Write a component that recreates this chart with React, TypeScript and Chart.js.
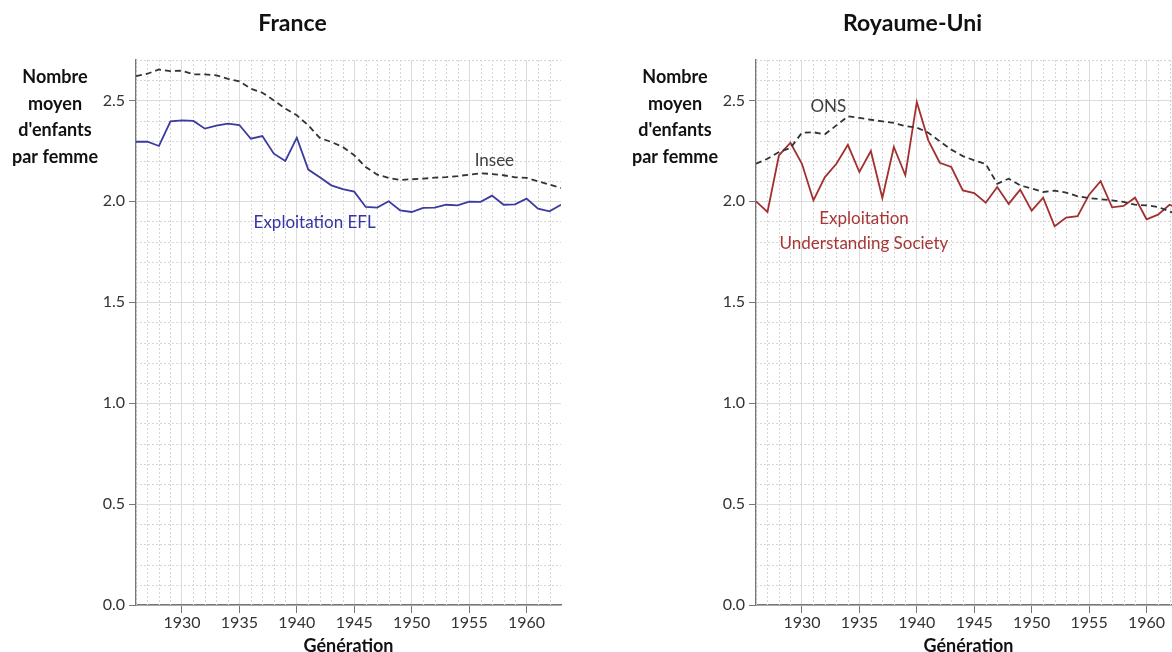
import React, { useEffect, useRef } from "react";
import { Chart, registerables } from "chart.js";

Chart.register(...registerables);

const YEARS = [
  1926, 1927, 1928, 1929, 1930, 1931, 1932, 1933, 1934, 1935, 1936, 1937, 1938,
  1939, 1940, 1941, 1942, 1943, 1944, 1945, 1946, 1947, 1948, 1949, 1950, 1951,
  1952, 1953, 1954, 1955, 1956, 1957, 1958, 1959, 1960, 1961, 1962, 1963,
];

const FR_EFL = [
  2.295, 2.295, 2.274, 2.396, 2.401, 2.398, 2.36, 2.375, 2.385, 2.378, 2.31, 2.323,
  2.236, 2.2, 2.315, 2.157, 2.119, 2.079, 2.06, 2.048, 1.972, 1.969, 2.0, 1.955,
  1.947, 1.967, 1.969, 1.983, 1.98, 1.998, 1.997, 2.028, 1.983, 1.985, 2.013, 1.964,
  1.95, 1.983,
];

const FR_INSEE = [
  2.62, 2.632, 2.653, 2.645, 2.647, 2.629, 2.629, 2.624, 2.607, 2.594, 2.558, 2.538,
  2.5, 2.459, 2.426, 2.376, 2.314, 2.294, 2.269, 2.228, 2.17, 2.132, 2.116, 2.106,
  2.109, 2.112, 2.117, 2.12, 2.125, 2.132, 2.139, 2.135, 2.129, 2.119, 2.116, 2.099,
  2.083, 2.066,
];

const UK_US = [
  2.0, 1.947, 2.228, 2.29, 2.186, 2.005, 2.12, 2.186, 2.28, 2.145, 2.249, 2.016,
  2.269, 2.129, 2.492, 2.302, 2.191, 2.17, 2.054, 2.041, 1.993, 2.071, 1.987, 2.058,
  1.954, 2.018, 1.876, 1.919, 1.926, 2.033, 2.1, 1.97, 1.977, 2.018, 1.911, 1.934,
  1.983, 1.96,
];

const UK_ONS = [
  2.186, 2.211, 2.244, 2.264, 2.34, 2.342, 2.332, 2.376, 2.421, 2.413, 2.404, 2.396,
  2.388, 2.373, 2.365, 2.34, 2.297, 2.256, 2.224, 2.203, 2.185, 2.087, 2.112, 2.079,
  2.063, 2.046, 2.053, 2.043, 2.025, 2.016, 2.01, 2.005, 1.997, 1.983, 1.98, 1.972,
  1.95, 1.93,
];

const X_TICKS = [1930, 1935, 1940, 1945, 1950, 1955, 1960];
const Y_TICKS = [0, 0.5, 1.0, 1.5, 2.0, 2.5];
const X_MIN = 1926;
const X_MAX = 1963;
const Y_MAX = 2.7;
const Y_TITLE = ["Nombre", "moyen", "d'enfants", "par femme"];
const X_TITLE = "Génération";

const FR_NOTES = [
  { text: "Insee", x: 1957.2, y: 2.2, color: "#404040" },
  { text: "Exploitation EFL", x: 1941.55, y: 1.893, color: "#3535a5" },
];
const UK_NOTES = [
  { text: "ONS", x: 1932.3, y: 2.47, color: "#404040" },
  { text: "Exploitation", x: 1935.4, y: 1.916, color: "#a83636" },
  { text: "Understanding Society", x: 1935.4, y: 1.792, color: "#a83636" },
];

const FONT = "Lato, 'Open Sans', sans-serif";

type Note = { text: string; x: number; y: number; color: string };

function makePlugin(title: string, notes: Note[]) {
  return {
    id: "decor",
    beforeDatasetsDraw(chart: any) {
      const { ctx, chartArea, scales } = chart;
      const xs = scales.x;
      const ys = scales.y;
      ctx.save();
      ctx.beginPath();
      ctx.rect(chartArea.left, chartArea.top, chartArea.right - chartArea.left, chartArea.bottom - chartArea.top);
      ctx.clip();
      ctx.strokeStyle = "#d6d6d6";
      ctx.lineWidth = 1;
      ctx.setLineDash([2, 2]);
      for (let yr = Math.ceil(xs.min); yr <= xs.max; yr++) {
        if (yr % 5 === 0) continue;
        const px = Math.round(xs.getPixelForValue(yr)) + 0.5;
        ctx.beginPath();
        ctx.moveTo(px, chartArea.top);
        ctx.lineTo(px, chartArea.bottom);
        ctx.stroke();
      }
      for (let i = 1; i <= Math.round(ys.max * 10); i++) {
        if (i % 5 === 0) continue;
        const py = Math.round(ys.getPixelForValue(i / 10)) + 0.5;
        ctx.beginPath();
        ctx.moveTo(chartArea.left, py);
        ctx.lineTo(chartArea.right, py);
        ctx.stroke();
      }
      ctx.restore();
    },
    afterDatasetsDraw(chart: any) {
      const { ctx, chartArea, scales } = chart;
      ctx.save();
      ctx.textAlign = "center";
      ctx.textBaseline = "middle";
      ctx.font = `17px ${FONT}`;
      for (const n of notes) {
        ctx.fillStyle = n.color;
        ctx.fillText(n.text, scales.x.getPixelForValue(n.x), scales.y.getPixelForValue(n.y));
      }
      ctx.font = `bold 18px ${FONT}`;
      ctx.fillStyle = "#111111";
      const offs = [17, 44, 70, 97];
      Y_TITLE.forEach((t, i) => {
        ctx.fillText(t, chartArea.left - 81, chartArea.top + offs[i]);
      });
      ctx.font = `bold 23px ${FONT}`;
      ctx.fillText(title, chart.width / 2, 24);
      ctx.restore();
    },
  };
}

function buildConfig(title: string, series: any[], notes: Note[]) {
  return {
    type: "line",
    data: {
      datasets: series.map((s) => ({
        data: YEARS.map((yr, i) => ({ x: yr, y: s.values[i] })),
        borderColor: s.color,
        borderWidth: 1.8,
        borderDash: s.dash,
        pointRadius: 0,
        tension: 0,
        fill: false,
      })),
    },
    options: {
      responsive: false,
      animation: false,
      layout: { padding: { left: 0, right: 24, top: 60, bottom: 0 } },
      plugins: {
        legend: { display: false },
        tooltip: { enabled: false },
        title: { display: false },
      },
      scales: {
        x: {
          type: "linear",
          min: X_MIN,
          max: X_MAX,
          afterBuildTicks: (s: any) => {
            s.ticks = X_TICKS.map((v) => ({ value: v }));
          },
          afterFit: (s: any) => {
            s.height = 49;
          },
          ticks: {
            autoSkip: false,
            maxRotation: 0,
            padding: 0,
            color: "#333333",
            font: { family: FONT, size: 16 },
            callback: (v: any) => String(v),
          },
          grid: { color: "#dcdcdc", lineWidth: 1, tickLength: 8, tickColor: "#777777" },
          border: { color: "#777777", width: 1.5 },
          title: {
            display: true,
            text: X_TITLE,
            color: "#111111",
            font: { family: FONT, size: 18, weight: "bold" },
            padding: { top: 0, bottom: -3 },
          },
        },
        y: {
          type: "linear",
          min: 0,
          max: Y_MAX,
          afterBuildTicks: (s: any) => {
            s.ticks = Y_TICKS.map((v) => ({ value: v }));
          },
          afterFit: (s: any) => {
            s.width = 136;
          },
          ticks: {
            padding: 4,
            color: "#333333",
            font: { family: FONT, size: 16 },
            callback: (v: any) => Number(v).toFixed(1),
          },
          grid: { color: "#dcdcdc", lineWidth: 1, tickLength: 7, tickColor: "#777777" },
          border: { color: "#777777", width: 1.5 },
        },
      },
    },
    plugins: [makePlugin(title, notes)],
  };
}

function ChartBox({ left, config }: { left: number; config: any }) {
  const ref = useRef<HTMLCanvasElement | null>(null);
  useEffect(() => {
    if (!ref.current) return;
    const chart = new Chart(ref.current, config);
    return () => chart.destroy();
  }, []);
  return (
    <div style={{ position: "absolute", left, top: 0, width: 585, height: 654 }}>
      <canvas ref={ref} width={585} height={654} style={{ display: "block" }} />
    </div>
  );
}

export default function App() {
  const frConfig = buildConfig(
    "France",
    [
      { values: FR_INSEE, color: "#333333", dash: [6, 4] },
      { values: FR_EFL, color: "#3a3aa0", dash: [] },
    ],
    FR_NOTES
  );
  const ukConfig = buildConfig(
    "Royaume-Uni",
    [
      { values: UK_ONS, color: "#333333", dash: [6, 4] },
      { values: UK_US, color: "#a32f2f", dash: [] },
    ],
    UK_NOTES
  );
  return (
    <div
      style={{
        position: "absolute",
        left: 0,
        top: 0,
        width: 1172,
        height: 652,
        overflow: "hidden",
        background: "#ffffff",
      }}
    >
      <ChartBox left={0} config={frConfig} />
      <ChartBox left={620} config={ukConfig} />
    </div>
  );
}
